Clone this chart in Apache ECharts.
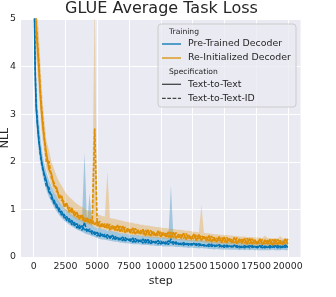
<!DOCTYPE html>
<html>
<head>
<meta charset="utf-8">
<script src="https://cdn.jsdelivr.net/npm/echarts@6/dist/echarts.min.js"></script>
<style>html,body{margin:0;padding:0;background:#fff}#c{width:336px;height:297px}</style>
</head>
<body>
<div id="c"></div>
<script>
const steps = [0,50,100,150,200,300,400,500,600,700,800,
1000,1200,1400,1600,1800,2000,2200,2400,2600,2800,
3000,3200,3400,3600,3800,4000,4200,4400,4600,4800,
5000,5200,5400,5600,5800,6000,6200,6400,6600,6800,
7000,7200,7400,7600,7800,8000,8200,8400,8600,8800,
9000,9200,9400,9600,9800,10000,10200,10400,10600,10800,
11000,11200,11400,11600,11800,12000,12200,12400,12600,12800,
13000,13200,13400,13600,13800,14000,14200,14400,14600,14800,
15000,15200,15400,15600,15800,16000,16200,16400,16600,16800,
17000,17200,17400,17600,17800,18000,18200,18400,18600,18800,
19000,19200,19400,19600,19800,20000];

// Pre-Trained Decoder, Text-to-Text
const ptText = [6.8,5.2,4.1,3.5,3.1,2.75,2.45,2.25,2.05,1.9,1.78,
1.60,1.36,1.31,1.12,1.11,0.95,0.96,0.82,0.85,0.73,
0.77,0.66,0.70,0.59,0.66,0.57,0.58,0.53,0.55,0.47,
0.52,0.43,0.48,0.42,0.47,0.39,0.46,0.37,0.41,0.36,
0.42,0.34,0.38,0.33,0.40,0.31,0.36,0.32,0.38,0.29,
0.37,0.28,0.33,0.29,0.35,0.27,0.32,0.27,0.34,0.30,
0.32,0.27,0.29,0.26,0.30,0.26,0.28,0.25,0.29,0.24,
0.28,0.24,0.26,0.23,0.27,0.22,0.25,0.23,0.26,0.21,
0.25,0.21,0.23,0.21,0.25,0.20,0.23,0.20,0.24,0.21,
0.24,0.20,0.22,0.19,0.24,0.19,0.23,0.20,0.24,0.20,
0.24,0.19,0.23,0.20,0.25,0.20];
// Pre-Trained Decoder, Text-to-Text-ID
const ptTextId = [7.0,5.4,4.3,3.6,3.2,2.8,2.5,2.2,2.0,1.86,1.74,
1.48,1.46,1.22,1.21,1.02,1.03,0.87,0.90,0.76,0.81,
0.68,0.73,0.61,0.67,0.56,0.73,0.52,0.59,0.48,0.53,
0.44,0.51,0.42,0.48,0.39,0.44,0.37,0.45,0.35,0.40,
0.34,0.41,0.34,0.38,0.31,0.39,0.31,0.36,0.29,0.37,
0.29,0.36,0.28,0.33,0.27,0.34,0.26,0.32,0.26,0.38,
0.26,0.32,0.26,0.29,0.25,0.30,0.24,0.28,0.24,0.28,
0.23,0.28,0.23,0.26,0.22,0.27,0.21,0.25,0.21,0.26,
0.20,0.25,0.21,0.23,0.20,0.24,0.19,0.23,0.19,0.24,
0.19,0.24,0.20,0.22,0.19,0.24,0.19,0.23,0.19,0.24,
0.19,0.24,0.19,0.23,0.20,0.24];
// Pre-Trained band (low / high)
const ptLow = [6.0,4.6,3.6,3.1,2.8,2.5,2.2,2.0,1.85,1.7,1.6,
1.40,1.26,1.15,1.04,0.96,0.88,0.82,0.76,0.72,0.68,
0.64,0.61,0.58,0.55,0.53,0.50,0.48,0.46,0.44,0.42,
0.40,0.38,0.37,0.36,0.35,0.34,0.33,0.32,0.32,0.30,
0.30,0.29,0.29,0.28,0.27,0.27,0.27,0.26,0.25,0.25,
0.25,0.24,0.24,0.23,0.23,0.23,0.22,0.22,0.22,0.22,
0.22,0.21,0.21,0.21,0.20,0.20,0.19,0.20,0.19,0.19,
0.18,0.19,0.18,0.18,0.17,0.17,0.16,0.17,0.16,0.16,
0.15,0.16,0.15,0.15,0.15,0.15,0.14,0.15,0.14,0.15,
0.14,0.15,0.14,0.14,0.14,0.14,0.14,0.14,0.14,0.15,
0.14,0.14,0.14,0.15,0.14,0.14];
const ptHigh = [8.0,6.2,4.9,4.2,3.7,3.2,2.9,2.6,2.35,2.15,2.0,
1.78,1.62,1.48,1.36,1.27,1.16,1.09,1.02,0.98,0.93,
0.89,0.85,0.83,0.79,0.78,2.2,0.71,1.34,0.67,0.63,
0.61,0.61,0.58,0.58,0.55,0.56,0.54,0.53,0.52,0.50,
0.50,0.49,0.48,0.47,0.47,0.45,0.46,0.44,0.45,0.43,
0.44,0.42,0.43,0.41,0.42,0.40,0.42,0.39,0.41,1.5,
0.40,0.39,0.38,0.39,0.37,0.38,0.36,0.37,0.35,0.36,
0.35,0.36,0.34,0.35,0.33,0.34,0.32,0.34,0.32,0.33,
0.31,0.33,0.31,0.32,0.31,0.32,0.30,0.32,0.30,0.32,
0.30,0.32,0.30,0.31,0.30,0.32,0.30,0.31,0.36,0.32,
0.30,0.31,0.30,0.37,0.31,0.31];

// Re-Initialized Decoder, Text-to-Text
const riText = [8.0,6.5,5.6,5.1,4.8,4.4,4.0,3.5,3.1,2.8,2.55,
2.18,1.84,1.74,1.49,1.46,1.24,1.28,1.06,1.13,0.94,
1.03,0.86,0.94,0.79,0.88,0.74,0.82,0.71,0.78,0.68,
0.75,0.63,0.70,0.62,0.70,0.57,0.66,0.56,0.67,0.53,
0.65,0.51,0.60,0.50,0.61,0.48,0.57,0.48,0.58,0.45,
0.57,0.44,0.53,0.44,0.55,0.42,0.51,0.42,0.53,0.40,
0.52,0.39,0.48,0.39,0.50,0.37,0.46,0.37,0.48,0.35,
0.47,0.35,0.43,0.34,0.45,0.32,0.41,0.32,0.43,0.30,
0.42,0.30,0.39,0.30,0.41,0.28,0.38,0.29,0.39,0.27,
0.39,0.27,0.36,0.27,0.38,0.26,0.36,0.27,0.37,0.25,
0.37,0.26,0.35,0.26,0.38,0.27];
// Re-Initialized Decoder, Text-to-Text-ID
const riTextId = [8.3,6.8,5.8,5.3,4.9,4.5,4.1,3.6,3.2,2.9,2.6,
1.99,2.01,1.66,1.56,1.38,1.33,1.19,1.16,1.03,1.04,
0.93,0.96,0.84,0.89,0.78,0.84,0.72,0.81,0.69,2.7,
0.65,0.75,0.62,0.70,0.60,0.69,0.58,0.64,0.55,0.65,
0.53,0.63,0.52,0.58,0.50,0.60,0.50,0.56,0.47,0.57,
0.46,0.56,0.46,0.52,0.44,0.54,0.44,0.50,0.42,0.52,
0.41,0.51,0.41,0.47,0.39,0.49,0.39,0.45,0.37,0.47,
0.36,0.46,0.37,0.42,0.34,0.44,0.34,0.40,0.32,0.42,
0.31,0.41,0.32,0.38,0.30,0.40,0.31,0.37,0.29,0.39,
0.28,0.38,0.29,0.35,0.28,0.37,0.28,0.35,0.27,0.37,
0.27,0.37,0.28,0.34,0.28,0.38];
// Re-Initialized band (low / high)
const riLow = [7.2,5.8,5.0,4.5,4.2,3.9,3.5,3.1,2.7,2.45,2.25,
1.85,1.70,1.50,1.36,1.26,1.15,1.08,1.00,0.95,0.90,
0.86,0.82,0.79,0.76,0.74,0.71,0.69,0.67,0.65,0.64,
0.61,0.60,0.58,0.57,0.56,0.54,0.54,0.52,0.52,0.50,
0.50,0.49,0.48,0.47,0.46,0.45,0.45,0.44,0.43,0.42,
0.42,0.41,0.41,0.40,0.40,0.39,0.39,0.38,0.38,0.37,
0.37,0.36,0.36,0.35,0.35,0.34,0.34,0.33,0.33,0.32,
0.32,0.32,0.31,0.30,0.30,0.29,0.29,0.28,0.28,0.27,
0.27,0.27,0.26,0.26,0.26,0.25,0.26,0.25,0.25,0.24,
0.24,0.24,0.23,0.23,0.24,0.23,0.23,0.23,0.23,0.22,
0.23,0.23,0.23,0.22,0.23,0.23];
const riHigh = [9.5,7.8,6.6,6.0,5.6,5.1,4.7,4.2,3.7,3.3,3.0,
2.45,2.25,2.0,1.85,1.70,1.58,1.50,1.40,1.32,1.26,
1.22,1.16,1.12,1.08,1.05,1.02,0.98,0.96,0.94,5.5,
0.90,0.88,0.86,0.85,1.8,0.82,0.81,0.80,0.78,0.77,
0.76,0.74,0.74,0.72,0.72,0.70,0.70,0.68,0.68,0.66,
0.66,0.65,0.64,0.63,0.63,0.62,0.61,0.61,0.60,0.59,
0.59,0.58,0.57,0.57,0.56,0.55,0.55,0.54,0.53,0.53,
0.52,1.1,0.51,0.50,0.50,0.49,0.48,0.48,0.47,0.47,
0.46,0.46,0.45,0.45,0.44,0.44,0.43,0.43,0.43,0.42,
0.42,0.42,0.41,0.41,0.41,0.40,0.45,0.40,0.40,0.39,
0.40,0.39,0.44,0.39,0.39,0.39];

const xTicks = [0,2500,5000,7500,10000,12500,15000,17500,20000];

const BLUE = '#0173B2', ORANGE = '#DE8F05';
const FONT = 'DejaVu Sans';

const pairs = (ys) => steps.map((s, i) => [s, ys[i]]);

function band(lo, hi, color) {
  return {
    type:'custom', silent:true, z:1, data:[[0, 0]],
    renderItem(params, api) {
      const pts = [];
      for (let i = 0; i < steps.length; i++) pts.push(api.coord([steps[i], hi[i]]));
      for (let i = steps.length - 1; i >= 0; i--) pts.push(api.coord([steps[i], lo[i]]));
      const cs = params.coordSys;
      return {
        type:'polygon', shape:{points:pts},
        style:{fill:color, opacity:0.3},
        clipPath:{type:'rect', shape:{x:cs.x, y:cs.y, width:cs.width, height:cs.height}}
      };
    }
  };
}
function line(name, ys, color, dashed, w, z) {
  return {type:'line', name, data: pairs(ys), symbol:'none', silent:true, z,
    lineStyle:{color, width:w, type: dashed ? [3.7,1.6] : 'solid'}};
}

const chart = echarts.init(document.getElementById('c'), null, {renderer:'canvas'});
chart.setOption({
  animation:false,
  backgroundColor:'#ffffff',
  title:{text:'GLUE Average Task Loss', left:65, top:1, padding:0,
    textStyle:{fontFamily:FONT, fontSize:16, fontWeight:'normal', color:'#262626'}},
  grid:{left:21, right:35.5, top:19, bottom:40, containLabel:false, outerBoundsMode:'none',
    show:true, backgroundColor:'#EAEAF2', borderWidth:0},
  xAxis:{type:'value', min:-1000, max:21000,
    name:'step', nameLocation:'middle', nameGap:16,
    nameTextStyle:{fontFamily:FONT, fontSize:11, color:'#262626'},
    axisLine:{show:false}, axisTick:{show:false, customValues:xTicks},
    axisLabel:{customValues:xTicks, formatter:(v) => String(v), fontFamily:FONT, fontSize:9.4, color:'#262626', margin:5},
    splitLine:{show:true, lineStyle:{color:'#ffffff', width:1}}},
  yAxis:{type:'value', min:0, max:5, interval:1,
    name:'NLL', nameLocation:'middle', nameGap:10, nameRotate:90, nameMoveOverlap:false,
    nameTextStyle:{fontFamily:FONT, fontSize:11, color:'#262626'},
    axisLine:{show:false}, axisTick:{show:false},
    axisLabel:{fontFamily:FONT, fontSize:9.4, color:'#262626', margin:5},
    splitLine:{show:true, lineStyle:{color:'#ffffff', width:1}}},
  series:[
    band(ptLow, ptHigh, BLUE),
    line('Pre-Trained Decoder / Text-to-Text', ptText, BLUE, false, 1.5, 2),
    line('Pre-Trained Decoder / Text-to-Text-ID', ptTextId, BLUE, true, 1.5, 2),
    band(riLow, riHigh, ORANGE),
    line('Re-Initialized Decoder / Text-to-Text', riText, ORANGE, false, 1.7, 3),
    line('Re-Initialized Decoder / Text-to-Text-ID', riTextId, ORANGE, true, 1.7, 3)
  ],
  graphic:[
    {type:'rect', z:100, shape:{x:158, y:24, width:138, height:83, r:3},
     style:{fill:'rgba(234,234,242,0.8)', stroke:'#cccccc', lineWidth:1}},
    {type:'text', z:101, x:169, y:31.7, style:{text:'Training', fontFamily:FONT, fontSize:7.6, fill:'#262626', verticalAlign:'middle'}},
    {type:'line', z:101, shape:{x1:162, y1:44, x2:181, y2:44}, style:{stroke:BLUE, lineWidth:1.3}},
    {type:'text', z:101, x:188, y:44, style:{text:'Pre-Trained Decoder', fontFamily:FONT, fontSize:9.4, fill:'#262626', verticalAlign:'middle'}},
    {type:'line', z:101, shape:{x1:162, y1:58, x2:181, y2:58}, style:{stroke:ORANGE, lineWidth:1.3}},
    {type:'text', z:101, x:188, y:58, style:{text:'Re-Initialized Decoder', fontFamily:FONT, fontSize:9.4, fill:'#262626', verticalAlign:'middle'}},
    {type:'text', z:101, x:169, y:72, style:{text:'Specification', fontFamily:FONT, fontSize:7.6, fill:'#262626', verticalAlign:'middle'}},
    {type:'line', z:101, shape:{x1:162, y1:84.3, x2:181, y2:84.3}, style:{stroke:'#444444', lineWidth:1.3}},
    {type:'text', z:101, x:188, y:84.3, style:{text:'Text-to-Text', fontFamily:FONT, fontSize:9.4, fill:'#262626', verticalAlign:'middle'}},
    {type:'line', z:101, shape:{x1:162, y1:98.3, x2:181, y2:98.3}, style:{stroke:'#444444', lineWidth:1.3, lineDash:[3.7,1.6]}},
    {type:'text', z:101, x:188, y:98.3, style:{text:'Text-to-Text-ID', fontFamily:FONT, fontSize:9.4, fill:'#262626', verticalAlign:'middle'}}
  ]
});
</script>
</body>
</html>
